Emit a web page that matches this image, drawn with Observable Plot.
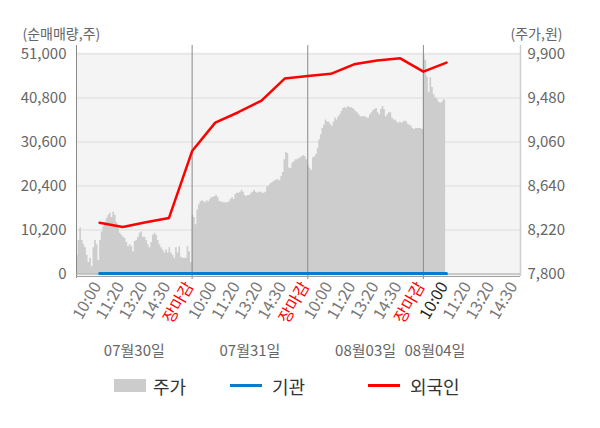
<!DOCTYPE html>
<html><head><meta charset="utf-8">
<script src="https://cdn.jsdelivr.net/npm/d3@7"></script>
<script src="https://cdn.jsdelivr.net/npm/@observablehq/plot@0.6"></script>
<style>
body{margin:0;background:#fff;font-family:"Noto Sans CJK KR","Noto Sans",sans-serif;}
#wrap{width:600px;}
#legend{position:relative;height:42px;width:600px;font-size:18px;color:#333;}
#legend .sw{position:absolute;}
#legend .lb{position:absolute;top:8px;line-height:26px;}
</style></head><body><div id="wrap"></div>
<div id="legend">
  <div class="sw" style="left:114px;top:14px;width:32px;height:13px;background:#cccccc"></div>
  <div class="lb" style="left:153px">주가</div>
  <div class="sw" style="left:230px;top:19px;width:32px;height:3px;background:#0a7ccb"></div>
  <div class="lb" style="left:272px">기관</div>
  <div class="sw" style="left:368px;top:19px;width:32px;height:3px;background:#ff0000"></div>
  <div class="lb" style="left:410px">외국인</div>
</div>
<script>
const dates = ["07월30일","07월31일","08월03일","08월04일"];
const sessionTicks = ["10:00","11:20","13:20","14:30","장마감"];
const lastDayTicks = ["10:00","11:20","13:20","14:30"];
const volumeTicks = [0,10200,20400,30600,40800,51000];
const priceTicks = [7800,8220,8640,9060,9480,9900];
const foreign = [11900,10900,12000,13000,28500,35100,37500,40200,45300,45900,46400,48600,49500,50000,46900,49000];
const institution = [0,0,0,0,0,0,0,0,0,0,0,0,0,0,0,0];
const priceDay1 = [7980,8120,8240,8120,8080,8050,7980,7910,7950,7870,
8050,8120,8080,7930,8120,8200,8250,8290,8330,8360,
8380,8340,8390,8360,8290,8240,8190,8170,8150,8140,
8100,8060,8080,8060,8010,8110,8120,8150,8190,8200,
8150,8150,8120,8080,8050,8100,8170,8190,8170,8120,
8080,8050,8030,8000,8030,8000,8050,8000,7980,7950,
8050,8000,8060,7960,7950,7950,7950,8060,8010,7910];
const priceDay2 = [8360,8340,8270,8410,8460,8490,8500,8490,8480,8500,
8490,8510,8530,8530,8540,8550,8530,8490,8490,8480,
8480,8480,8480,8490,8510,8530,8510,8560,8570,8570,
8580,8600,8580,8550,8540,8550,8550,8570,8580,8600,
8580,8570,8580,8580,8570,8570,8580,8630,8640,8660,
8670,8680,8690,8700,8700,8690,8730,8770,8890,8960,
8950,8810,8810,8860,8870,8890,8890,8900,8910,8920,
8930,8920,8890];
const priceDay3 = [8840,8810,8790,8910,8920,8940,9000,9080,9130,9190,
9220,9270,9250,9250,9230,9210,9250,9290,9270,9300,
9320,9350,9380,9390,9380,9400,9390,9390,9380,9370,
9350,9340,9320,9300,9300,9300,9300,9290,9290,9320,
9340,9360,9370,9380,9340,9320,9370,9400,9370,9300,
9320,9340,9340,9290,9270,9270,9250,9240,9250,9240,
9250,9260,9250,9230,9220,9210,9190,9180,9190,9190,
9190,9190,9180];
const priceDay4 = [9890,9840,9680,9530,9670,9580,9510,9480,9470,9440,9430,9440,9460,9460];

const SESSION_POINTS = 70;   // samples in a full session
const TICKS_PER_DAY = sessionTicks.length;
const days = [priceDay1, priceDay2, priceDay3, priceDay4];

// price -> volume-axis domain (twin axis)
const toVol = d3.scaleLinear().domain([priceTicks[0], priceTicks[priceTicks.length-1]])
  .range([volumeTicks[0], volumeTicks[volumeTicks.length-1]]);

const priceRows = days.flatMap((arr, d) => {
  const n = Math.max(arr.length, SESSION_POINTS);
  return arr.map((p, i) => ({t: d*TICKS_PER_DAY + TICKS_PER_DAY*(i+0.5)/n, v: toVol(p)}));
});

const tickRows = dates.flatMap((dt, d) => (d < dates.length-1 ? sessionTicks : lastDayTicks)
  .map((lab, j) => ({t: d*TICKS_PER_DAY + j + 1, label: lab})));
const currentT = foreign.length;
tickRows.forEach(r => r.kind = r.label === "장마감" ? "close" : (r.t === currentT ? "now" : "time"));

const flowRows = foreign.map((f, i) => ({t: i+1, foreign: f, inst: institution[i]}));
const dateRows = dates.map((dt, d) => {
  const ts = priceRows.filter(r => r.t >= d*TICKS_PER_DAY && r.t < (d+1)*TICKS_PER_DAY).map(r => r.t);
  return {t: (d3.min(ts) + d3.max(ts))/2, label: dt};
});
const xMax = tickRows[tickRows.length-1].t + 0.2;
const dayBreaks = dates.slice(1).map((_, d) => (d+1)*TICKS_PER_DAY);

const fmt = d3.format(",");
const font = "'Noto Sans CJK KR','Noto Sans',sans-serif";
const tickText = {x: "t", text: "label", frameAnchor: "bottom", textAnchor: "end", rotate: -60, dy: 12, dx: 2, fontSize: 16};

const chart = Plot.plot({
  width: 600, height: 365,
  marginLeft: 76, marginRight: 80, marginTop: 53.5, marginBottom: 91.5,
  style: {fontFamily: font, fontSize: "14px", background: "#fff"},
  x: {domain: [0, xMax], axis: null},
  y: {domain: [volumeTicks[0], volumeTicks[volumeTicks.length-1]]},
  marks: [
    Plot.frame({fill: "#f4f4f4", stroke: null, insetTop: -1.5, insetBottom: -2.5}),
    Plot.ruleY(volumeTicks.slice(1), {stroke: "#dcdcdc", strokeWidth: 1}),
    Plot.areaY(priceRows, {x: "t", y: "v", fill: "#cdcdcd", curve: "step"}),
    Plot.ruleX(dayBreaks, {stroke: "#8a8a8a", strokeWidth: 1, insetTop: -8.5, insetBottom: -5.5}),
    Plot.ruleX([0], {stroke: "#8a8a8a", strokeWidth: 1, insetTop: -8.5, insetBottom: -4.5}),
    Plot.ruleX([xMax], {stroke: "#cfcfcf", strokeWidth: 1.5, insetTop: -8.5, insetBottom: -2.5}),
    Plot.ruleY([0], {stroke: "#a0a0a0", strokeWidth: 1}),
    Plot.ruleY([0], {stroke: "#a0a0a0", strokeWidth: 1, dy: 2.5}),
    Plot.lineY(flowRows, {x: "t", y: "inst", stroke: "#0a7ccb", strokeWidth: 3, dy: -0.5}),
    Plot.lineY(flowRows, {x: "t", y: "foreign", stroke: "#ff0000", strokeWidth: 2.5}),
    Plot.axisY(volumeTicks, {anchor: "left", tickSize: 0, tickPadding: 10, tickFormat: fmt, fill: "#666", fontSize: 15}),
    Plot.axisY(volumeTicks, {anchor: "right", tickSize: 0, tickPadding: 7,
      tickFormat: v => fmt(priceTicks[volumeTicks.indexOf(v)]), fill: "#666", fontSize: 15}),
    Plot.text(tickRows.filter(r => r.kind === "time"), {...tickText, fill: "#777"}),
    Plot.text(tickRows.filter(r => r.kind === "now"), {...tickText, fill: "#222"}),
    Plot.text(tickRows.filter(r => r.kind === "close"), {...tickText, fill: "#ff0000"}),
    Plot.text(dateRows, {x: "t", text: "label", frameAnchor: "bottom", dy: 82, fill: "#666", fontSize: 15}),
    Plot.text(["(순매매량,주)"], {frameAnchor: "top-left", textAnchor: "start", dx: -54, dy: -25, fill: "#666", fontSize: 14}),
    Plot.text(["(주가,원)"], {frameAnchor: "top-right", textAnchor: "end", dx: 42, dy: -25, fill: "#666", fontSize: 14})
  ]
});
document.getElementById("wrap").appendChild(chart);
</script>
</body></html>
